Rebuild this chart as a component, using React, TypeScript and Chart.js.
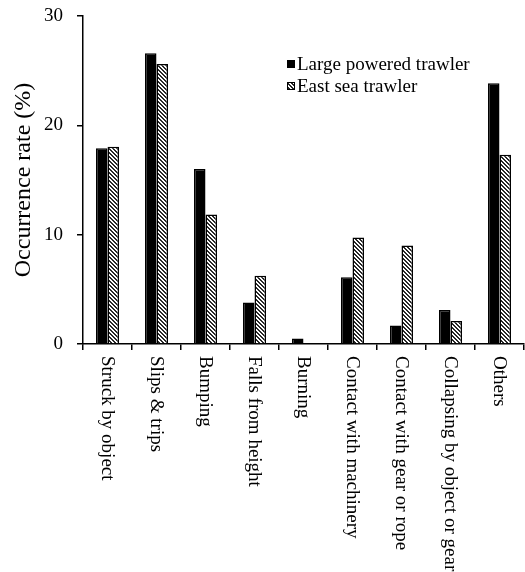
import React, { useEffect, useRef } from "react";
import { Chart, registerables } from "chart.js";

Chart.register(...registerables);

const categories = [
  "Struck by object",
  "Slips & trips",
  "Bumping",
  "Falls from height",
  "Burning",
  "Contact with machinery",
  "Contact with gear or rope",
  "Collapsing by object or gear",
  "Others",
];
const largePowered = [17.9, 26.6, 16.0, 3.8, 0.5, 6.1, 1.7, 3.1, 23.85];
const eastSea = [18.05, 25.6, 11.85, 6.25, 0, 9.75, 9.0, 2.1, 17.3];
const seriesNames = ["Large powered trawler", "East sea trawler"];
const yTicks = [0, 10, 20, 30];

const FONT = "'Liberation Serif', 'Times New Roman', serif";

function makeHatch(): CanvasPattern | string {
  const c = document.createElement("canvas");
  c.width = 4;
  c.height = 4;
  const g = c.getContext("2d");
  if (!g) return "#888";
  const img = g.createImageData(4, 4);
  for (let y = 0; y < 4; y++) {
    for (let x = 0; x < 4; x++) {
      const i = (y * 4 + x) * 4;
      const dark = ((x - y + 8) % 4) < 2;
      const v = dark ? 40 : 255;
      img.data[i] = v;
      img.data[i + 1] = v;
      img.data[i + 2] = v;
      img.data[i + 3] = 255;
    }
  }
  g.putImageData(img, 0, 0);
  const p = g.createPattern(c, "repeat");
  return p || "#888";
}

export default function App() {
  const ref = useRef<HTMLCanvasElement | null>(null);

  useEffect(() => {
    document.body.style.margin = "0";
    const canvas = ref.current;
    if (!canvas) return;
    const hatch = makeHatch();

    const customPlugin = {
      id: "customDraw",
      afterDraw(chart: any) {
        const ctx = chart.ctx;
        const xScale = chart.scales.x;
        const area = chart.chartArea;
        ctx.save();
        // rotated category labels (reading top to bottom)
        ctx.fillStyle = "#000";
        ctx.font = `19px ${FONT}`;
        ctx.textAlign = "left";
        ctx.textBaseline = "middle";
        categories.forEach((lab, i) => {
          const x = xScale.getPixelForValue(i);
          ctx.save();
          ctx.translate(x, area.bottom + 12);
          ctx.rotate(Math.PI / 2);
          ctx.fillText(lab, 0, 1);
          ctx.restore();
        });
        // legend
        const lx = area.left + 204;
        const ly = area.top + 48;
        const rowH = 22;
        ctx.font = `19px ${FONT}`;
        ctx.textBaseline = "middle";
        for (let k = 0; k < 2; k++) {
          const cy = ly + k * rowH;
          if (k === 0) {
            ctx.fillStyle = "#000";
            ctx.fillRect(lx, cy - 4, 8, 8);
          } else {
            ctx.fillStyle = hatch as any;
            ctx.fillRect(lx, cy - 4, 8, 8);
            ctx.strokeStyle = "#000";
            ctx.lineWidth = 1;
            ctx.strokeRect(lx + 0.5, cy - 3.5, 7, 7);
          }
          ctx.fillStyle = "#000";
          ctx.fillText(seriesNames[k], lx + 10, cy + 1);
        }
        ctx.restore();
      },
    };

    const chart = new Chart(canvas, {
      type: "bar",
      data: {
        labels: categories,
        datasets: [
          {
            label: seriesNames[0],
            data: largePowered,
            backgroundColor: "#000",
            borderColor: "#000",
            borderWidth: 1.5,
          },
          {
            label: seriesNames[1],
            data: eastSea,
            backgroundColor: hatch as any,
            borderColor: "#000",
            borderWidth: 1.5,
          },
        ],
      },
      options: {
        responsive: false,
        animation: false,
        devicePixelRatio: 1,
        layout: { padding: { top: 16, right: 1, left: 0, bottom: 0 } },
        datasets: {
          bar: { categoryPercentage: 0.47, barPercentage: 1.0 },
        },
        plugins: {
          legend: { display: false },
          tooltip: { enabled: false },
        },
        scales: {
          x: {
            grid: {
              offset: true,
              drawOnChartArea: false,
              color: "#000",
              tickColor: "#000",
              tickLength: 6,
              lineWidth: 1.5,
            },
            border: { display: true, color: "#000", width: 1.5 },
            ticks: { display: false },
            afterFit(scale: any) {
              scale.height = 228;
            },
          },
          y: {
            min: 0,
            max: 30,
            afterBuildTicks(scale: any) {
              scale.ticks = yTicks.map((v) => ({ value: v }));
            },
            grid: {
              drawOnChartArea: false,
              color: "#000",
              tickColor: "#000",
              tickLength: 6,
              lineWidth: 1.5,
            },
            border: { display: true, color: "#000", width: 1.5 },
            ticks: {
              color: "#000",
              padding: 14,
              font: { family: FONT, size: 19 },
            },
            title: {
              display: true,
              text: "Occurrence rate (%)",
              color: "#000",
              font: { family: FONT, size: 24 },
              padding: { top: 9, bottom: 0 },
            },
            afterFit(scale: any) {
              scale.width = 83;
              scale.paddingTop = 0;
              scale.paddingBottom = 0;
            },
          },
        },
      },
      plugins: [customPlugin],
    });

    return () => chart.destroy();
  }, []);

  return (
    <div style={{ width: 525, height: 572, background: "#fff" }}>
      <canvas ref={ref} width={525} height={572} />
    </div>
  );
}
